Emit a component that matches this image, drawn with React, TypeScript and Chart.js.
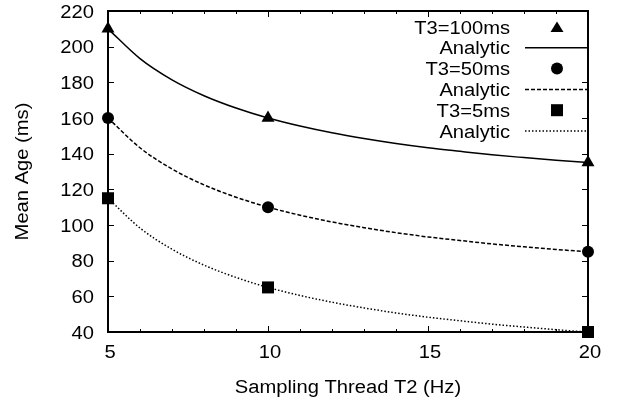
import React, { useEffect, useRef } from "react";
import { Chart, registerables } from "chart.js";

Chart.register(...registerables);

const xMeasured = [5, 10, 20];
const t100 = [210, 160, 135];
const t50 = [160, 110, 85];
const t5 = [115, 65, 40];

const xAnalytic = [5, 6, 7, 8, 9, 10, 11, 12, 13, 14, 15, 16, 17, 18, 19, 20];
const a100 = [210, 193.3, 181.4, 172.5, 165.6, 160, 155.5, 151.7, 148.5, 145.7, 143.3, 141.3, 139.4, 137.8, 136.3, 135];
const a50 = [160, 143.3, 131.4, 122.5, 115.6, 110, 105.5, 101.7, 98.5, 95.7, 93.3, 91.3, 89.4, 87.8, 86.3, 85];
const a5 = [115, 98.3, 86.4, 77.5, 70.6, 65, 60.5, 56.7, 53.5, 50.7, 48.3, 46.3, 44.4, 42.8, 41.3, 40];

const xTicks = [5, 10, 15, 20];
const yTicks = [40, 60, 80, 100, 120, 140, 160, 180, 200, 220];
const legendLabels = ["T3=100ms", "Analytic", "T3=50ms", "Analytic", "T3=5ms", "Analytic"];
const xTitle = "Sampling Thread T2 (Hz)";
const yTitle = "Mean Age (ms)";

const FONT = "'Liberation Sans', Arial, sans-serif";
const FSIZE = 18;
const STRETCH = 1.12;
const DASH = [4, 2];
const DOT = [1.5, 2];

function pts(xs: number[], ys: number[]) {
  return xs.map((x, i) => ({ x, y: ys[i] }));
}

function text(ctx: CanvasRenderingContext2D, s: string, x: number, y: number, align: CanvasTextAlign, rot = 0) {
  ctx.save();
  ctx.translate(x, y);
  if (rot) ctx.rotate(rot);
  ctx.scale(STRETCH, 1);
  ctx.textAlign = align;
  ctx.textBaseline = "alphabetic";
  ctx.fillText(s, 0, 0);
  ctx.restore();
}

const framePlugin = {
  id: "frame",
  afterDraw(chart: any) {
    const ctx = chart.ctx;
    const { left, right, top, bottom } = chart.chartArea;
    const xs = chart.scales.x;
    const ys = chart.scales.y;
    ctx.save();
    ctx.strokeStyle = "#000";
    ctx.lineWidth = 1;
    ctx.setLineDash([]);
    for (let v = xs.min; v <= xs.max; v += 1) {
      const px = Math.round(xs.getPixelForValue(v)) + 0.5;
      const major = xTicks.includes(v);
      const len = major ? 6 : 3;
      ctx.beginPath();
      ctx.moveTo(px, bottom);
      ctx.lineTo(px, bottom - len);
      ctx.moveTo(px, top);
      ctx.lineTo(px, top + len);
      ctx.stroke();
    }
    yTicks.forEach((v) => {
      const py = Math.round(ys.getPixelForValue(v)) + 0.5;
      ctx.beginPath();
      ctx.moveTo(left, py);
      ctx.lineTo(left + 6, py);
      ctx.moveTo(right, py);
      ctx.lineTo(right - 6, py);
      ctx.stroke();
    });
    ctx.lineWidth = 2;
    ctx.strokeRect(left, top, right - left, bottom - top);

    ctx.fillStyle = "#000";
    ctx.font = `${FSIZE}px ${FONT}`;
    // tick labels
    yTicks.forEach((v) => {
      text(ctx, String(v), left - 14, ys.getPixelForValue(v) + 6.5, "right");
    });
    xTicks.forEach((v) => {
      text(ctx, String(v), xs.getPixelForValue(v) + 2, 358, "center");
    });
    // axis titles
    text(ctx, xTitle, (left + right) / 2, 393, "center");
    text(ctx, yTitle, 28, (top + bottom) / 2, "center", -Math.PI / 2);

    // legend
    const textRight = 510;
    const sx0 = 525;
    const sx1 = 587;
    const mx = 557;
    legendLabels.forEach((lab, i) => {
      const cy = 27 + i * 20.8;
      ctx.fillStyle = "#000";
      text(ctx, lab, textRight, cy + 6.5, "right");
      ctx.lineWidth = 1.5;
      if (i === 0) {
        ctx.beginPath();
        ctx.moveTo(mx, cy - 5.5);
        ctx.lineTo(mx + 6.5, cy + 5);
        ctx.lineTo(mx - 6.5, cy + 5);
        ctx.closePath();
        ctx.fill();
      } else if (i === 2) {
        ctx.beginPath();
        ctx.arc(mx, cy, 6, 0, Math.PI * 2);
        ctx.fill();
      } else if (i === 4) {
        ctx.fillRect(mx - 6, cy - 6, 12, 12);
      } else {
        ctx.setLineDash(i === 1 ? [] : i === 3 ? DASH : DOT);
        ctx.beginPath();
        ctx.moveTo(sx0, cy);
        ctx.lineTo(sx1, cy);
        ctx.stroke();
        ctx.setLineDash([]);
      }
    });
    ctx.restore();
  },
};

export default function App() {
  const ref = useRef<HTMLCanvasElement>(null);
  useEffect(() => {
    if (!ref.current) return;
    const lineDs = (label: string, data: number[], dash: number[]) => ({
      type: "line" as const,
      label,
      data: pts(xAnalytic, data),
      borderColor: "#000",
      borderWidth: 1.5,
      borderDash: dash,
      pointRadius: 0,
      fill: false,
      tension: 0.4,
      cubicInterpolationMode: "monotone" as const,
      clip: false as any,
    });
    const markDs = (label: string, data: number[], style: string, r: number) => ({
      type: "scatter" as const,
      label,
      data: pts(xMeasured, data),
      backgroundColor: "#000",
      borderColor: "#000",
      pointStyle: style,
      pointRadius: r,
      borderWidth: 0,
      showLine: false,
      clip: false as any,
    });
    const chart = new Chart(ref.current, {
      type: "scatter",
      data: {
        datasets: [
          lineDs("Analytic 100", a100, []),
          lineDs("Analytic 50", a50, DASH),
          lineDs("Analytic 5", a5, DOT),
          markDs("T3=100ms", t100, "triangle", 7.5),
          markDs("T3=50ms", t50, "circle", 6),
          markDs("T3=5ms", t5, "rect", 8.5),
        ] as any,
      },
      plugins: [framePlugin],
      options: {
        animation: false,
        responsive: false,
        maintainAspectRatio: false,
        layout: { padding: { left: 0, right: 42, top: 11, bottom: 0 } },
        plugins: { legend: { display: false }, tooltip: { enabled: false } },
        scales: {
          x: {
            type: "linear",
            min: 5,
            max: 20,
            afterFit: (s: any) => {
              s.height = 72;
            },
            grid: { display: false, drawTicks: false },
            border: { display: false },
            ticks: { display: false },
          },
          y: {
            type: "linear",
            min: 40,
            max: 220,
            afterFit: (s: any) => {
              s.width = 108;
            },
            grid: { display: false, drawTicks: false },
            border: { display: false },
            ticks: { display: false },
          },
        },
      },
    });
    return () => chart.destroy();
  }, []);
  return (
    <div style={{ position: "fixed", left: 0, top: 0, width: 630, height: 404, background: "#fff" }}>
      <canvas ref={ref} width={630} height={404} style={{ width: 630, height: 404 }} />
    </div>
  );
}
